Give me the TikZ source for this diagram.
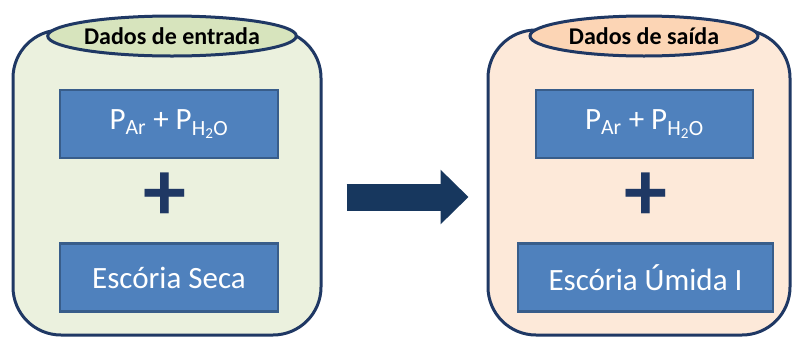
\documentclass[tikz,border=0pt]{standalone}
\usepackage{fontspec}
\setmainfont{Carlito}
\usepackage{xcolor}
\usepackage{tikz}
\usetikzlibrary{calc,positioning,arrows.meta,shapes.geometric}

\definecolor{navy}{HTML}{1F3864}
\definecolor{greenbg}{HTML}{EBF1DE}
\definecolor{greencap}{HTML}{D7E4BD}
\definecolor{peachbg}{HTML}{FDE9D9}
\definecolor{peachcap}{HTML}{FCD5B5}
\definecolor{boxblue}{HTML}{4F81BD}
\definecolor{boxedge}{HTML}{385D8A}
\definecolor{arrowblue}{HTML}{17375E}

\begin{document}
\begin{tikzpicture}[x=1pt, y=-1pt,
  container/.style={draw=navy, line width=3pt, rounded corners=48pt,
    minimum width=#1, minimum height=305pt, inner sep=0pt},
  titlecap/.style={ellipse, draw=navy, line width=3pt, minimum width=229pt,
    minimum height=40pt, inner sep=0pt, font=\fontsize{24}{26}\selectfont\bfseries},
  databox/.style={draw=boxedge, fill=boxblue, line width=2.5pt, text=white,
    minimum width=#1, minimum height=68pt, inner sep=0pt,
    font=\fontsize{31}{34}\selectfont},
  plussign/.style={text=navy, inner sep=0pt, font=\fontsize{86}{86}\selectfont\bfseries},
  bigarrow/.style={draw=arrowblue, line width=27pt,
    -{Triangle[length=28pt, width=53pt]}, shorten <=24pt, shorten >=18pt}
]
\useasboundingbox (0,0) rectangle (793,338);

% input side
\node[container=308pt, fill=greenbg] (entrada) at (167,182.5) {};
\node[titlecap, fill=greencap] (capin) at (172,36) {Dados de entrada};
\node[databox=218pt] (gasin) at (169,124) {P\textsubscript{Ar} + P\textsubscript{H\textsubscript{2}O}};
\node[plussign] (plusin) at (165,197) {+};
\node[databox=218pt] (slagin) at (169,277.5) {Escória Seca};

% output side
\node[container=302pt, fill=peachbg] (saida) at (639,182.5) {};
\node[titlecap, fill=peachcap, minimum width=228pt] (capout) at (644,36) {Dados de saída};
\node[databox=217pt] (gasout) at (644.5,124) {P\textsubscript{Ar} + P\textsubscript{H\textsubscript{2}O}};
\node[plussign] (plusout) at (646,197) {+};
\node[databox=255pt] (slagout) at (645.5,277.5) {Escória Úmida I};

% the transfer arrow
\draw[bigarrow] (plusin -| entrada.east) -- (plusout -| saida.west);
\end{tikzpicture}
\end{document}
